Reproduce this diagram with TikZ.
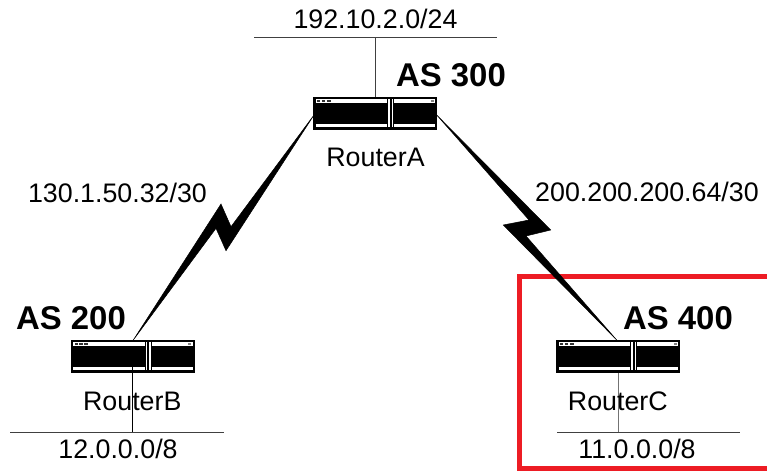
\documentclass[tikz,border=0pt]{standalone}
\usepackage{fontspec}
\setmainfont{Liberation Sans}
\definecolor{boxred}{RGB}{237,28,36}
\newcommand{\routerparts}[1]{%
  \begin{scope}[shift={(#1)}]
    \fill[white] (-59.3,-14.2) rectangle (12.3,-11);
    \fill[white] (-59.3,10.4) rectangle (12.3,13.8);
    \fill[white] (19,-14.2) rectangle (60,-11);
    \fill[white] (19,10.4) rectangle (60,13.8);
    \fill[white] (13,-14.2) rectangle (14.7,13.8);
    \fill[white] (16.8,-14.2) rectangle (18.4,13.8);
    \fill[black!80] (-57.7,-13.4) rectangle (-54.8,-11.8);
    \fill[black!80] (-53.4,-13.4) rectangle (-50,-11.8);
    \fill[black!80] (-48.4,-13.4) rectangle (-44.4,-11.8);
    \fill[gray] (55.5,-13.6) rectangle (58.8,-11.6);
  \end{scope}}
\tikzset{
  x=1pt,y=-1pt,
  routerbox/.style={rectangle,fill=black,draw=black,line width=0.5pt,inner sep=0pt,minimum width=123pt,minimum height=32pt},
  plain/.style={font=\fontsize{26.8}{30}\selectfont,inner sep=0pt,text=black},
  asname/.style={font=\fontsize{32.9}{36}\selectfont\bfseries,inner sep=0pt},
  lan/.style={line width=0.9pt,draw=black!75},
  bolt/.style={fill=black,draw=black,line width=0.5pt,line join=miter},
  redbox/.style={draw=boxred,line width=5pt}
}
\begin{document}
\begin{tikzpicture}
\useasboundingbox (0,0) rectangle (767,472);
\draw[redbox] (767,276.5) -- (519.5,276.5) -- (519.5,468.5) -- (767,468.5);
% LAN segments
\coordinate (lanAl) at (254,37); \coordinate (lanAr) at (497,37);
\coordinate (lanBl) at (10,432); \coordinate (lanBr) at (224,432);
\coordinate (lanCl) at (557,432); \coordinate (lanCr) at (740,432);
\coordinate (lanAm) at (375,37); \coordinate (lanBm) at (132.5,432); \coordinate (lanCm) at (618,432);
\draw[lan] (lanAl) -- (lanAr);
\draw[lan] (lanBl) -- (lanBr);
\draw[lan] (lanCl) -- (lanCr);
\node[routerbox] (routerA) at (375,113.5) {};
\node[routerbox] (routerB) at (132.5,356.5) {};
\node[routerbox] (routerC) at (618,356.5) {};
\routerparts{375,113.5}
\routerparts{132.5,356.5}
\routerparts{618,356.5}
\draw[lan] (lanAm) -- (routerA.north);
\draw[lan,draw=black,shorten <=-6pt] (routerB.south) -- (lanBm);
\draw[lan,draw=black!55] (routerC.south) -- (lanCm);
% serial links
\coordinate (ab1) at (221,204); \coordinate (ab2) at (231,226.7);
\coordinate (ab3) at (226,250.7); \coordinate (ab4) at (216,228.3);
\coordinate (ac1) at (529,220); \coordinate (ac2) at (503.3,225);
\coordinate (ac3) at (526,236); \coordinate (ac4) at (550.7,230);
\coordinate (aL) at (314,115); \coordinate (aR) at (436.7,115);
\coordinate (bT) at (133.3,340); \coordinate (cT) at (616.7,340);
\draw[bolt] (bT) -- (ab1) -- (ab2) -- (aL) -- (ab3) -- (ab4) -- cycle;
\draw[bolt] (aR) -- (ac1) -- (ac2) -- (cT) -- (ac3) -- (ac4) -- cycle;
% labels
\node[plain] (t1) at (375.5,19) {192.10.2.0/24};
\node[asname] (t2) at (451,75) {AS 300};
\node[plain] (t3) at (375.5,157) {RouterA};
\node[plain] (t4) at (117.5,193) {130.1.50.32/30};
\node[plain] (t5) at (647,192) {200.200.200.64/30};
\node[asname] (t6) at (71,318) {AS 200};
\node[asname] (t7) at (678,318) {AS 400};
\node[plain] (t8) at (132.3,401) {RouterB};
\node[plain] (t9) at (617.8,401) {RouterC};
\node[plain] (t10) at (118,449) {12.0.0.0/8};
\node[plain] (t11) at (637,449) {11.0.0.0/8};
\end{tikzpicture}
\end{document}
